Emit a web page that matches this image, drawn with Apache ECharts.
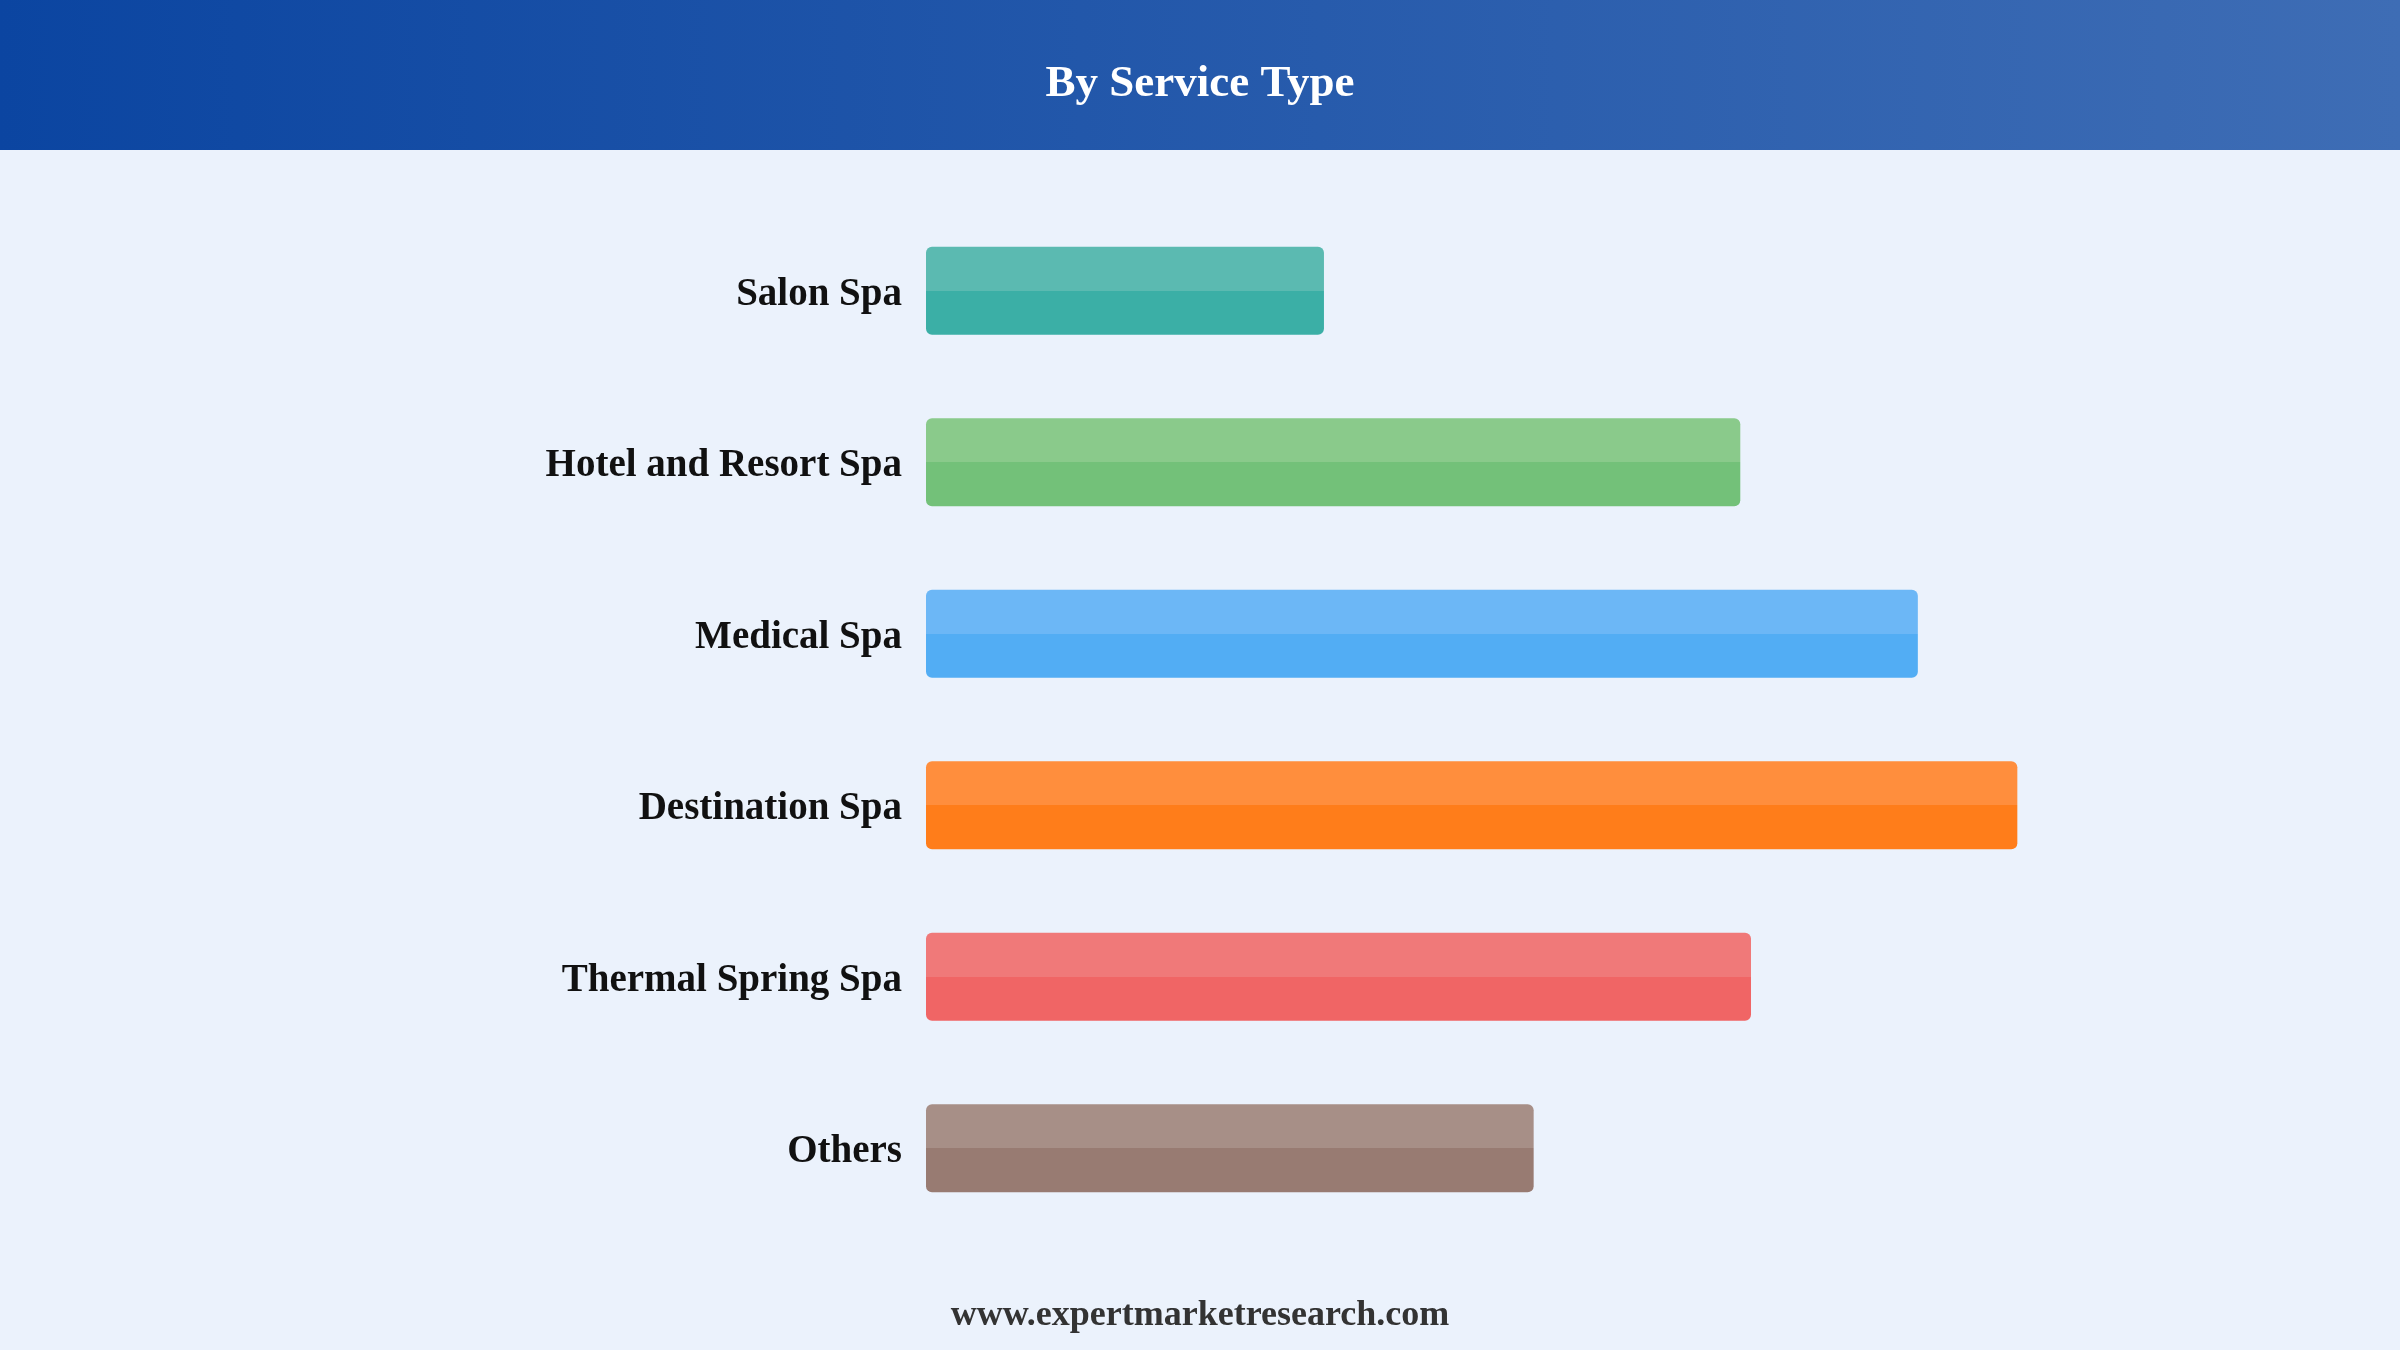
<!DOCTYPE html>
<html>
<head>
<meta charset="utf-8">
<style>
html,body{margin:0;padding:0;background:#EBF2FC;}
#chart{width:2400px;height:1350px;}
</style>
<script src="https://cdn.jsdelivr.net/npm/echarts@6/dist/echarts.min.js"></script>
</head>
<body>
<div id="chart"></div>
<script>
const categories = ["Salon Spa","Hotel and Resort Spa","Medical Spa","Destination Spa","Thermal Spring Spa","Others"];
const values = [260, 532, 648, 713, 539, 397];
const lightColors = ["#5BBAB1","#8ACA8B","#6CB7F6","#FF8E3D","#F07979","#A78F87"];
const darkColors  = ["#3BAFA6","#73C179","#52ADF4","#FF7D1A","#F06565","#987B72"];
const titleText = "By Service Type";
const footerText = "www.expertmarketresearch.com";

const chart = echarts.init(document.getElementById('chart'));
const data = values.map((v,i)=>({
  value: v,
  itemStyle: {
    color: new echarts.graphic.LinearGradient(0,0,0,1,[
      {offset:0,color:lightColors[i]},
      {offset:0.5,color:lightColors[i]},
      {offset:0.5,color:darkColors[i]},
      {offset:1,color:darkColors[i]}
    ])
  }
}));
chart.setOption({
  backgroundColor: '#EBF2FC',
  animation: false,
  graphic: [
    {type:'rect', left:0, top:0, shape:{width:2400,height:150}, z:0,
     style:{fill:new echarts.graphic.LinearGradient(0,0,1,0,[{offset:0,color:'#0B45A1'},{offset:1,color:'#3E6DB5'}])}},
    {type:'text', x:1200, y:84, z:10,
     style:{text:titleText, fill:'#ffffff', font:'bold 45px "Liberation Serif", "Times New Roman", serif', textAlign:'center', textVerticalAlign:'middle'}},
    {type:'text', x:1200, y:1316, z:10,
     style:{text:footerText, fill:'#333333', font:'bold 36px "Liberation Serif", "Times New Roman", serif', textAlign:'center', textVerticalAlign:'middle'}}
  ],
  grid: {left:926, right:249.5, top:205, bottom:116, containLabel:false},
  xAxis: {type:'value', min:0, max:800, show:false},
  yAxis: {
    type:'category', data:categories, inverse:true,
    axisLine:{show:false}, axisTick:{show:false}, splitLine:{show:false},
    axisLabel:{fontSize:39, fontWeight:'bold', color:'#111111', fontFamily:'"Liberation Serif", "Times New Roman", serif', margin:24, verticalAlign:'top', lineHeight:8}
  },
  series: [{
    type:'bar', data:data, barWidth:88,
    itemStyle:{borderRadius:6}
  }]
});
</script>
</body>
</html>
